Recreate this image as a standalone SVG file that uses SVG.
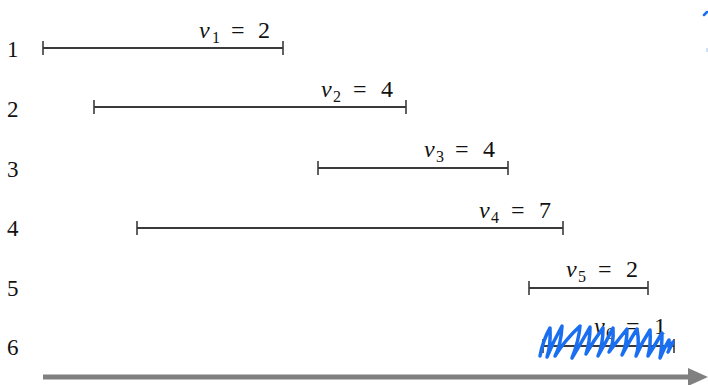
<svg xmlns="http://www.w3.org/2000/svg" width="708" height="385" viewBox="0 0 708 385">
<style>
.lbl{font-family:"Liberation Serif","DejaVu Serif",serif;font-size:23px;fill:#111}
.val{font-family:"Liberation Serif","DejaVu Serif",serif;font-size:24px;fill:#111}
.it{font-style:italic}
.sub{font-size:16px}
.bar{stroke:#3a3a3a;stroke-width:2;fill:none}
.tick{stroke:#3a3a3a;stroke-width:1.6}
.scrib{fill:none;stroke:#1a6ef0;stroke-width:3.5;stroke-linejoin:round;stroke-linecap:round}
</style>
<rect width="708" height="385" fill="#fff"/>
<g id="job1">
<text class="lbl" x="7" y="57">1</text>
<line class="bar" x1="43" y1="48" x2="283" y2="48"/>
<line class="tick" x1="43" y1="41" x2="43" y2="55"/><line class="tick" x1="283" y1="41" x2="283" y2="55"/>
<text class="val" y="38"><tspan class="it" x="199">v</tspan><tspan class="sub" x="212" y="43">1</tspan><tspan x="231" y="38">=</tspan><tspan x="258">2</tspan></text>
</g>
<g id="job2">
<text class="lbl" x="7" y="117">2</text>
<line class="bar" x1="94" y1="107" x2="406" y2="107"/>
<line class="tick" x1="94" y1="100" x2="94" y2="114"/><line class="tick" x1="406" y1="100" x2="406" y2="114"/>
<text class="val" y="97"><tspan class="it" x="321">v</tspan><tspan class="sub" x="333" y="102">2</tspan><tspan x="353" y="97">=</tspan><tspan x="381">4</tspan></text>
</g>
<g id="job3">
<text class="lbl" x="7" y="177">3</text>
<line class="bar" x1="318" y1="168" x2="508" y2="168"/>
<line class="tick" x1="318" y1="161" x2="318" y2="175"/><line class="tick" x1="508" y1="161" x2="508" y2="175"/>
<text class="val" y="157"><tspan class="it" x="424">v</tspan><tspan class="sub" x="436" y="162">3</tspan><tspan x="455" y="157">=</tspan><tspan x="483">4</tspan></text>
</g>
<g id="job4">
<text class="lbl" x="7" y="236">4</text>
<line class="bar" x1="137" y1="228" x2="563" y2="228"/>
<line class="tick" x1="137" y1="221" x2="137" y2="235"/><line class="tick" x1="563" y1="221" x2="563" y2="235"/>
<text class="val" y="218"><tspan class="it" x="479">v</tspan><tspan class="sub" x="491" y="223">4</tspan><tspan x="511" y="218">=</tspan><tspan x="539">7</tspan></text>
</g>
<g id="job5">
<text class="lbl" x="7" y="296">5</text>
<line class="bar" x1="529" y1="288" x2="648" y2="288"/>
<line class="tick" x1="529" y1="281" x2="529" y2="295"/><line class="tick" x1="648" y1="281" x2="648" y2="295"/>
<text class="val" y="277"><tspan class="it" x="566">v</tspan><tspan class="sub" x="578" y="282">5</tspan><tspan x="598" y="277">=</tspan><tspan x="626">2</tspan></text>
</g>
<g id="job6">
<text class="lbl" x="7" y="355">6</text>
<line class="bar" x1="543" y1="346" x2="674" y2="346"/>
<line class="tick" x1="543" y1="339" x2="543" y2="353"/><line class="tick" x1="674" y1="339" x2="674" y2="353"/>
<text class="val" y="334"><tspan class="it" x="594">v</tspan><tspan class="sub" x="606" y="339">6</tspan><tspan x="626" y="334">=</tspan><tspan x="654">1</tspan></text>
<path class="scrib" d="M540 356 Q543 340 550 328 Q551 345 547 357 Q553 342 562 326 Q561 345 555 356 Q565 340 580 326 Q579 340 572 358 Q580 345 590 327 Q590 342 586 354 Q594 340 603 328 Q603 345 598 356 Q606 342 613 328 Q614 345 609 352 Q618 340 627 329 Q627 345 622 355 Q630 340 637 329 Q640 345 636 356 Q642 342 650 330 Q651 345 648 356 Q655 345 662 333 Q662 348 660 358 Q664 348 669 340 Q670 350 668 352 Q671 346 673 342"/>
</g>
<g id="connectors">
<line x1="43" y1="377" x2="690" y2="377" stroke="#808080" stroke-width="5"/>
<polygon points="688,368 708,377 688,386" fill="#808080"/>
</g>
<g id="marks">
<path d="M704 15 L707 12" stroke="#1a6ef0" stroke-width="2.5" stroke-linecap="round"/>
<line x1="707" y1="48" x2="707" y2="52" stroke="#9dc0f5" stroke-width="1"/>
</g>
</svg>
